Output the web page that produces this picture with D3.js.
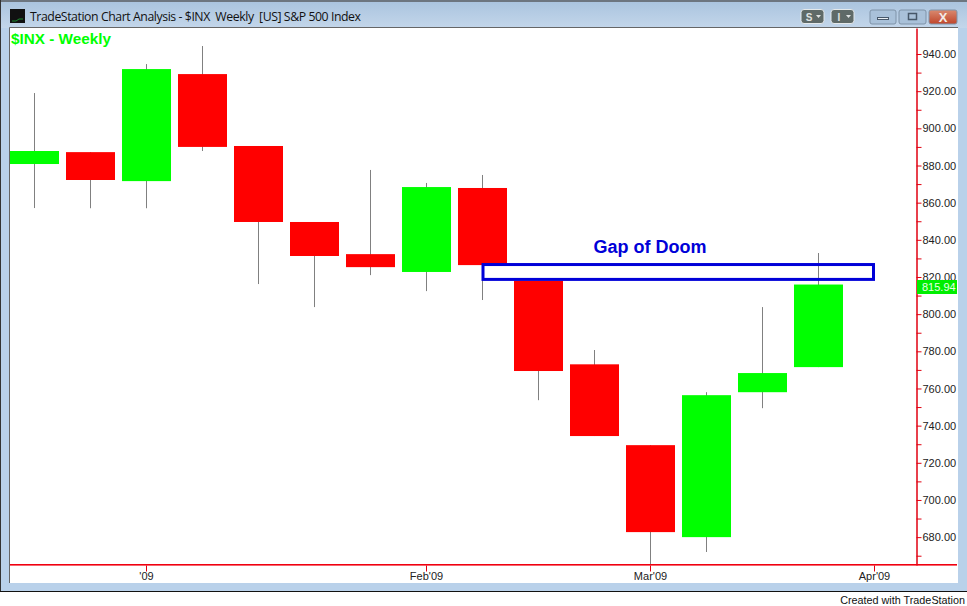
<!DOCTYPE html>
<html>
<head>
<meta charset="utf-8">
<script src="https://cdn.jsdelivr.net/npm/d3@7/dist/d3.min.js"></script>
<style>
  html, body { margin: 0; padding: 0; background: #fff; overflow: hidden; }
  svg { display: block; }
  text { font-family: "Liberation Sans", Arial, sans-serif; }
</style>
</head>
<body>
<div id="chart"></div>
<script>
// weekly bars
var weeks  = ["2008-12-15","2008-12-22","2008-12-29","2009-01-05","2009-01-12","2009-01-19","2009-01-26","2009-02-02","2009-02-09","2009-02-16","2009-02-23","2009-03-02","2009-03-09","2009-03-16","2009-03-23"];
var opens  = [880.8, 887.2, 871.6, 929.2, 890.5, 849.6, 832.3, 822.7, 867.9, 818.0, 773.0, 729.5, 680.0, 758.0, 771.5];
var highs  = [919.0, 887.2, 934.6, 944.3, 890.5, 849.6, 877.6, 870.6, 874.9, 818.0, 780.7, 729.5, 758.0, 803.8, 832.9];
var lows   = [857.1, 857.0, 857.0, 887.8, 816.2, 803.8, 821.0, 812.4, 807.6, 753.7, 734.4, 665.0, 672.0, 749.4, 771.5];
var closes = [887.8, 872.2, 931.9, 890.0, 849.6, 831.3, 825.3, 868.4, 826.4, 769.4, 734.4, 682.7, 756.4, 768.3, 815.94];

var priceTicks = d3.range(680, 950, 20);
var minorTicks = d3.range(670, 940, 20);
var monthTicks = ["2008-12-29", "2009-02-02", "2009-03-02", "2009-03-30"];
var monthLabels = ["'09", "Feb'09", "Mar'09", "Apr'09"];
var lastPrice = 815.94;
var gapStart = "2009-02-09", gapEnd = "2009-03-30", gapTop = 826.7, gapBottom = 818.7;

var W = 967, H = 606;
var plot = {left: 10, right: 958, top: 28, bottom: 583, axisX: 916, axisY: 565};
var axisRed = "#e00010";
var parseDay = d3.utcParse("%Y-%m-%d");

var bars = weeks.map(function(w, i) {
    return {date: parseDay(w), open: opens[i], high: highs[i], low: lows[i], close: closes[i]};
});

var svg = d3.select("#chart").append("svg").attr("width", W).attr("height", H);

// window chrome
var defs = svg.append("defs");
var titleGrad = defs.append("linearGradient").attr("id", "titleGrad").attr("x1", 0).attr("x2", 0).attr("y1", 0).attr("y2", 1);
titleGrad.append("stop").attr("offset", "0%").attr("stop-color", "#a9c3de");
titleGrad.append("stop").attr("offset", "100%").attr("stop-color", "#c3d6ea");
var closeGrad = defs.append("linearGradient").attr("id", "closeGrad").attr("x1", 0).attr("x2", 0).attr("y1", 0).attr("y2", 1);
closeGrad.append("stop").attr("offset", "0%").attr("stop-color", "#d98a70");
closeGrad.append("stop").attr("offset", "100%").attr("stop-color", "#c0452a");

svg.append("rect").attr("x", 0).attr("y", 0).attr("width", W).attr("height", 592).attr("fill", "#b9d1ea");
svg.append("rect").attr("x", 0).attr("y", 0).attr("width", W).attr("height", 28).attr("fill", "url(#titleGrad)");
svg.append("rect").attr("x", 0).attr("y", 0).attr("width", W).attr("height", 2).attr("fill", "#6d7680");
svg.append("rect").attr("x", 0).attr("y", 0).attr("width", 1).attr("height", 592).attr("fill", "#333");
svg.append("rect").attr("x", 0).attr("y", 591).attr("width", W).attr("height", 1).attr("fill", "#111");
svg.append("rect").attr("x", plot.left).attr("y", plot.top).attr("width", plot.right - plot.left).attr("height", plot.bottom - plot.top).attr("fill", "#fff");
svg.append("path").attr("d", "M9.5,583V27.5H958").attr("fill", "none").attr("stroke", "#666");

// title bar
svg.append("rect").attr("x", 10).attr("y", 9).attr("width", 15).attr("height", 14).attr("fill", "#111");
svg.append("path").attr("d", "M12,21h4l3,-2h4").attr("fill", "none").attr("stroke", "#1c8a2e");
svg.append("text").attr("x", 30).attr("y", 21).attr("font-size", 12.3).attr("fill", "#111")
    .style("white-space", "pre")
    .style("font-family", "'Open Sans', sans-serif")
    .attr("textLength", 331)
    .text("TradeStation Chart Analysis - $INX  Weekly  [US] S&P 500 Index");

function darkButton(x, label) {
    svg.append("rect").attr("x", x).attr("y", 9.5).attr("width", 23).attr("height", 14).attr("rx", 3).attr("fill", "#5f6a68").attr("stroke", "#e4e8ea");
    svg.append("text").attr("x", x + 8).attr("y", 20.5).attr("text-anchor", "middle").attr("font-size", 10).attr("font-weight", "bold").attr("fill", "#dfe3e3").text(label);
    svg.append("path").attr("d", "M" + (x + 15) + ",15h5l-2.5,3z").attr("fill", "#dfe3e3");
}
darkButton(801, "S");
darkButton(831, "I");

function capButton(x, w, fill) {
    return svg.append("rect").attr("x", x).attr("y", 10).attr("width", w).attr("height", 14).attr("rx", 2).attr("fill", fill).attr("stroke", "#7f93a8");
}
capButton(870, 26, "#a9c1d9");
svg.append("rect").attr("x", 877.5).attr("y", 17.5).attr("width", 11).attr("height", 2).attr("fill", "#e8eef3").attr("stroke", "#47586a");
capButton(899, 27, "#a9c1d9");
svg.append("rect").attr("x", 908.5).attr("y", 13.5).attr("width", 8).attr("height", 6).attr("fill", "none").attr("stroke", "#47586a").attr("stroke-width", 1.5);
capButton(929, 28, "url(#closeGrad)");
svg.append("text").attr("x", 943).attr("y", 22).attr("text-anchor", "middle").attr("font-size", 13).attr("font-weight", "bold").attr("fill", "#f2ece8").text("X");

// scales
var xScale = d3.scaleUtc()
    .domain([parseDay("2008-12-29"), parseDay("2009-03-30")])
    .range([146, 874]);
var yScale = d3.scaleLinear()
    .domain([665, 954])
    .range([plot.axisY, plot.top]);

var bodyWidth = 49;

svg.append("clipPath").attr("id", "plotClip").append("rect")
    .attr("x", plot.left).attr("y", plot.top)
    .attr("width", plot.axisX - plot.left).attr("height", plot.axisY - plot.top);

var marks = svg.append("g").attr("clip-path", "url(#plotClip)");

// wicks
marks.selectAll(".wick").data(bars).enter().append("line")
    .attr("class", "wick")
    .attr("x1", function(d) { return Math.round(xScale(d.date)) + 0.5; })
    .attr("x2", function(d) { return Math.round(xScale(d.date)) + 0.5; })
    .attr("y1", function(d) { return yScale(d.high); })
    .attr("y2", function(d) { return yScale(d.low); })
    .attr("stroke", "#808080");

// bodies
marks.selectAll(".body").data(bars).enter().append("rect")
    .attr("class", "body")
    .attr("x", function(d) { return Math.round(xScale(d.date)) - 24; })
    .attr("width", bodyWidth)
    .attr("y", function(d) { return yScale(Math.max(d.open, d.close)); })
    .attr("height", function(d) { return Math.abs(yScale(d.open) - yScale(d.close)); })
    .attr("fill", function(d) { return d.close >= d.open ? "#00ff00" : "#ff0000"; });

// axes
var yAxis = d3.axisRight(yScale).tickValues(priceTicks).tickSizeInner(5).tickSizeOuter(0).tickPadding(1)
    .tickFormat(d3.format(".2f"));
var yAxisG = svg.append("g").attr("transform", "translate(" + (plot.axisX + 0.5) + ",0)").call(yAxis);
var yMinor = d3.axisRight(yScale).tickValues(minorTicks).tickSizeInner(5).tickSizeOuter(0).tickFormat("");
var yMinorG = svg.append("g").attr("transform", "translate(" + (plot.axisX + 0.5) + ",0)").call(yMinor);

var xAxis = d3.axisBottom(xScale)
    .tickValues(monthTicks.map(parseDay))
    .tickSizeInner(6).tickSizeOuter(0).tickPadding(1)
    .tickFormat(function(d, i) { return monthLabels[i]; });
var xAxisG = svg.append("g").attr("transform", "translate(0," + (plot.axisY + 0.5) + ")").call(xAxis);

yAxisG.selectAll("text").attr("fill", "#222").style("font-size", "11px");
xAxisG.selectAll("text").attr("fill", "#222").style("font-size", "11px");
[yAxisG, yMinorG, xAxisG].forEach(function(g) {
    g.selectAll("line").attr("stroke", axisRed);
});
yAxisG.select(".domain").attr("stroke", axisRed).attr("stroke-width", 1.5);
yMinorG.select(".domain").remove();
xAxisG.select(".domain").remove();
svg.append("rect").attr("x", plot.left).attr("y", plot.axisY - 1)
    .attr("width", plot.right - plot.left - 1).attr("height", 1.6).attr("fill", "#f00010");

// gap box and annotation
svg.append("rect")
    .attr("x", xScale(parseDay(gapStart)) + 1)
    .attr("y", yScale(gapTop))
    .attr("width", xScale(parseDay(gapEnd)) - xScale(parseDay(gapStart)) - 1.5)
    .attr("height", yScale(gapBottom) - yScale(gapTop))
    .attr("fill", "none").attr("stroke", "#0000d8").attr("stroke-width", 3);

svg.append("text").attr("x", 650).attr("y", 253).attr("text-anchor", "middle")
    .attr("font-size", 18).attr("font-weight", "bold").attr("fill", "#0000d8").text("Gap of Doom");

svg.append("text").attr("x", 11).attr("y", 44)
    .attr("font-size", 15.3).attr("font-weight", "bold").attr("fill", "#00ff00").text("$INX - Weekly");

// last price flag
svg.append("rect").attr("x", plot.axisX + 1).attr("y", 280)
    .attr("width", 40).attr("height", 14).attr("fill", "#00ee00");
svg.append("text").attr("x", 922).attr("y", 291)
    .attr("font-size", 11).attr("fill", "#e8ffe8").text(d3.format(".2f")(lastPrice));

svg.append("text").attr("x", 965).attr("y", 604).attr("text-anchor", "end")
    .attr("font-size", 10.8).attr("fill", "#111").text("Created with TradeStation");
</script>
</body>
</html>
